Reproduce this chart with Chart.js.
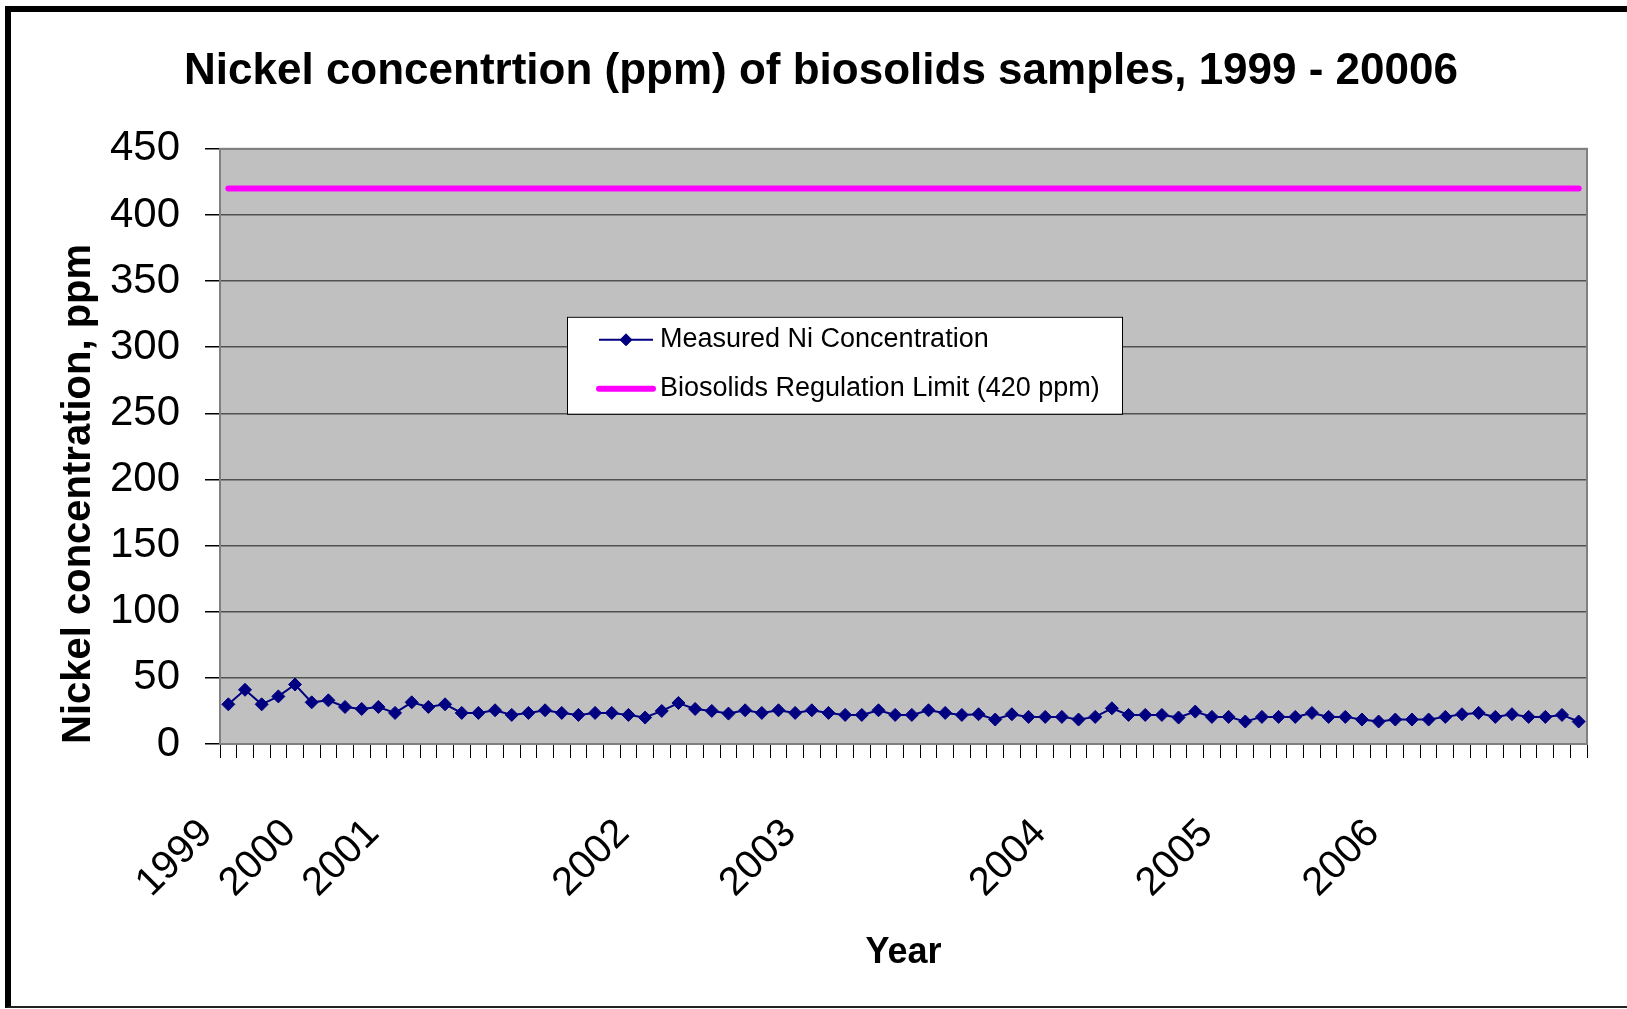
<!DOCTYPE html>
<html>
<head>
<meta charset="utf-8">
<title>Nickel concentration of biosolids samples</title>
<script src="https://cdn.jsdelivr.net/npm/chart.js@4.4.1/dist/chart.umd.min.js"></script>
<style>
  body { margin: 0; background: #fff; overflow: hidden; }
  #wrap { position: relative; width: 1627px; height: 1009px; }
  #myChart { position: absolute; left: 0; top: 0; }
  .frame {
    position: absolute; left: 5px; top: 6px; width: 1650px; height: 1002px;
    box-sizing: border-box; pointer-events: none;
    border-left: 6px solid #000; border-top: 6px solid #000; border-bottom: 2px solid #222;
  }
</style>
</head>
<body>
<div id="wrap">
  <canvas id="myChart" width="1627" height="1009"></canvas>
  <div class="frame"></div>
</div>
<script>
// sample data (ppm), one value per sampling
const niValues = [30, 41, 30, 36, 45, 31.5, 33, 28, 26.5, 28, 23.5, 31.5, 28, 30,
  23.5, 23.5, 25.5, 22, 23.5, 25.5, 23.5, 22, 23.5, 23.5, 22, 20, 25, 31,
  26.5, 25, 23, 25.5, 23.5, 25.5, 23.5, 25.5, 23.5, 22, 22, 25.5, 22, 22,
  25.5, 23.5, 22, 22.5, 18.5, 22.5, 20.5, 20.5, 20.5, 18.5, 20.5, 27, 22,
  22, 22, 20, 24.5, 20.5, 20.5, 17, 20.5, 20.5, 20.5, 23.5, 20.5, 20.5,
  18.5, 17, 18.5, 18.5, 18.5, 20.5, 22.5, 23.5, 20.5, 22.5, 20.5, 20.5, 22, 17];
const limitValue = 420;

// year labels and the sample where each one is written
const yearLabels = ['1999', '2000', '2001', '2002', '2003', '2004', '2005', '2006'];
const yearFirstSample = [0, 5, 10, 25, 35, 50, 60, 70];

const yTicks = [0, 50, 100, 150, 200, 250, 300, 350, 400, 450];

let categories = niValues.map(() => '');
yearFirstSample.forEach((idx, i) => { categories[idx] = yearLabels[i]; });
let limitLine = niValues.map(() => limitValue);

const fontFamily = "'Liberation Sans', Arial, sans-serif";

// grey plot area
const plotBackground = {
  id: 'plotBackground',
  beforeDraw(chart) {
    const { ctx, chartArea } = chart;
    ctx.save();
    ctx.fillStyle = '#fff';
    ctx.fillRect(0, 0, chart.width, chart.height);
    ctx.fillStyle = '#c0c0c0';
    ctx.fillRect(chartArea.left, chartArea.top, chartArea.width, chartArea.height);
    ctx.restore();
  },
  beforeDatasetsDraw(chart) {
    const { ctx, chartArea } = chart;
    ctx.save();
    ctx.strokeStyle = '#808080';
    ctx.lineWidth = 2;
    ctx.strokeRect(chartArea.left, chartArea.top, chartArea.width, chartArea.height);
    ctx.restore();
  }
};

// legend box sitting inside the plot
const boxLegend = {
  id: 'boxLegend',
  afterDraw(chart) {
    const { ctx, chartArea } = chart;
    const x = chartArea.left + 347, y = chartArea.top + 168, w = 555, h = 97;
    ctx.save();
    ctx.fillStyle = '#fff';
    ctx.fillRect(x, y, w, h);
    ctx.strokeStyle = '#000';
    ctx.lineWidth = 1;
    ctx.strokeRect(x + 0.5, y + 0.5, w, h);
    chart.data.datasets.forEach((ds, i) => {
      const cy = y + 23 + i * 49;
      ctx.strokeStyle = ds.borderColor;
      ctx.lineWidth = ds.borderWidth;
      ctx.lineCap = ds.borderCapStyle || 'butt';
      ctx.beginPath();
      ctx.moveTo(x + 32, cy);
      ctx.lineTo(x + 86, cy);
      ctx.stroke();
      if (ds.pointRadius) {
        ctx.fillStyle = ds.backgroundColor;
        ctx.lineWidth = 1;
        Chart.helpers.drawPoint(ctx, { pointStyle: ds.pointStyle, radius: 6, borderWidth: 1 }, x + 59, cy);
      }
      ctx.fillStyle = '#000';
      ctx.font = '27px ' + fontFamily;
      ctx.textBaseline = 'middle';
      ctx.textAlign = 'left';
      ctx.fillText(ds.label, x + 93, cy);
    });
    ctx.restore();
  }
};

const ctx = document.getElementById('myChart');

new Chart(ctx, {
  type: 'line',
  data: {
    labels: categories,
    datasets: [
      {
        label: 'Measured Ni Concentration',
        data: niValues,
        borderColor: '#000080',
        backgroundColor: '#000080',
        borderWidth: 2,
        pointStyle: 'rectRot',
        pointRadius: 6.5,
        pointBorderWidth: 1,
        tension: 0
      },
      {
        label: 'Biosolids Regulation Limit (420 ppm)',
        data: limitLine,
        borderColor: '#ff00ff',
        backgroundColor: '#ff00ff',
        borderWidth: 6,
        borderCapStyle: 'round',
        pointRadius: 0,
        tension: 0
      }
    ]
  },
  plugins: [plotBackground, boxLegend],
  options: {
    responsive: false,
    animation: false,
    layout: { padding: { left: 55, right: 40, top: 12, bottom: 0 } },
    plugins: {
      legend: { display: false },
      tooltip: { enabled: false },
      title: {
        display: true,
        text: 'Nickel concentrtion (ppm) of biosolids samples, 1999 - 20006',
        color: '#000',
        font: { family: fontFamily, size: 44, weight: 'bold' },
        padding: { top: 33, bottom: 51 }
      }
    },
    scales: {
      x: {
        offset: true,
        grid: { offset: true, drawOnChartArea: false, tickLength: 14, tickColor: '#000' },
        border: { color: '#333', width: 1 },
        ticks: {
          autoSkip: false,
          minRotation: 45,
          maxRotation: 45,
          labelOffset: -22,
          padding: 52,
          color: '#000',
          font: { family: fontFamily, size: 40 }
        },
        title: {
          display: true,
          text: 'Year',
          color: '#000',
          font: { family: fontFamily, size: 36, weight: 'bold' },
          padding: { top: 0, bottom: 34 }
        },
        afterFit: (scale) => {
          scale.height = 265;
          scale.paddingLeft = 0;
          scale.paddingRight = 0;
        }
      },
      y: {
        min: 0,
        max: 450,
        afterBuildTicks: (scale) => { scale.ticks = yTicks.map(v => ({ value: v })); },
        grid: { color: '#505050', lineWidth: 1.5, tickLength: 15, tickColor: '#000' },
        border: { color: '#333', width: 1 },
        ticks: {
          padding: 25,
          color: '#000',
          font: { family: fontFamily, size: 42 }
        },
        title: {
          display: true,
          text: 'Nickel concentration, ppm',
          align: 'start',
          color: '#000',
          font: { family: fontFamily, size: 40, weight: 'bold' },
          padding: { top: 0, bottom: 0 }
        },
        afterFit: (scale) => { scale.width = 165; }
      }
    }
  }
});
</script>
</body>
</html>
